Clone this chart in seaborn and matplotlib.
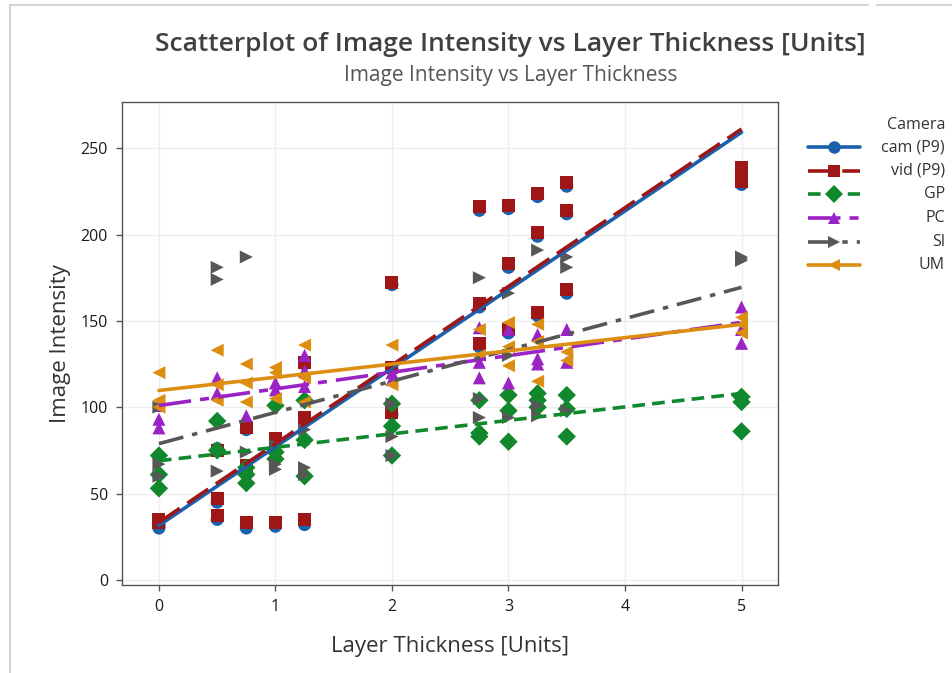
import numpy as np
import pandas as pd
import matplotlib
matplotlib.use("Agg")
import matplotlib.pyplot as plt
import seaborn as sns
from matplotlib.lines import Line2D

# ---------------- data ----------------
cameras = ["Phone cam (P9)", "Phone vid (P9)", "GP", "PC", "SI", "UM"]
legend_labels = ["cam (P9)", "vid (P9)", "GP", "PC", "SI", "UM"]

cam_x = [0, 0, 0, 0.5, 0.5, 0.5, 0.75, 0.75, 0.75, 1, 1, 1.25, 1.25, 1.25, 2, 2, 2,
         2.75, 2.75, 2.75, 3, 3, 3, 3.25, 3.25, 3.25, 3.5, 3.5, 3.5, 5, 5, 5]
cam_y = [30, 31, 32, 35, 45, 76, 30, 65, 87, 31, 81, 32, 93, 125, 96, 122, 171,
         135, 158, 214, 143, 181, 215, 153, 199, 222, 166, 212, 228, 229, 231, 237]

vid_x = [0, 0, 0, 0.5, 0.5, 0.5, 0.75, 0.75, 0.75, 1, 1, 1.25, 1.25, 1.25, 2, 2, 2,
         2.75, 2.75, 2.75, 3, 3, 3, 3.25, 3.25, 3.25, 3.5, 3.5, 3.5, 5, 5, 5]
vid_y = [33, 34, 35, 37, 47, 75, 33, 66, 88, 33, 82, 35, 94, 126, 97, 123, 172,
         137, 160, 216, 145, 183, 217, 155, 201, 224, 168, 214, 230, 231, 233, 239]

gp_x = [0, 0, 0, 0.5, 0.5, 0.75, 0.75, 0.75, 1, 1, 1, 1.25, 1.25, 1.25, 2, 2, 2,
        2.75, 2.75, 2.75, 3, 3, 3, 3.25, 3.25, 3.25, 3.5, 3.5, 3.5, 5, 5, 5]
gp_y = [53, 61, 72, 75, 92, 56, 61, 65, 70, 74, 101, 60, 81, 104, 72, 89, 102,
        83, 85, 104, 80, 98, 107, 100, 104, 108, 83, 99, 107, 86, 103, 106]

pc_x = [0, 0, 0, 0.5, 0.5, 0.75, 1, 1, 1.25, 1.25, 1.25, 2, 2, 2.75, 2.75, 2.75,
        3, 3, 3.25, 3.25, 3.25, 3.5, 3.5, 5, 5, 5]
pc_y = [88, 93, 101, 108, 117, 95, 110, 114, 112, 121, 130, 116, 120, 117, 126, 146,
        114, 145, 125, 128, 142, 126, 145, 137, 145, 158]

si_x = [0, 0, 0, 0.5, 0.5, 0.5, 0.75, 0.75, 1, 1, 1, 1.25, 1.25, 1.25, 2, 2, 2,
        2.75, 2.75, 2.75, 3, 3, 3, 3.25, 3.25, 3.25, 3.5, 3.5, 3.5, 5, 5, 5]
si_y = [60, 67, 100, 63, 174, 181, 74, 187, 64, 67, 78, 61, 65, 87, 72, 83, 102,
        94, 105, 175, 94, 130, 166, 95, 101, 191, 98, 181, 187, 185, 186, 187]

um_x = [0, 0, 0, 0.5, 0.5, 0.5, 0.75, 0.75, 0.75, 1, 1, 1, 1.25, 1.25, 1.25, 2, 2,
        2.75, 2.75, 3, 3, 3, 3.25, 3.25, 3.25, 3.5, 3.5, 5, 5, 5]
um_y = [100, 104, 120, 104, 113, 133, 103, 114, 125, 105, 120, 123, 103, 117, 136, 113, 136,
        130, 145, 124, 135, 149, 115, 138, 148, 127, 132, 143, 148, 152]

x_ticks = [0, 1, 2, 3, 4, 5]
y_ticks = [0, 50, 100, 150, 200, 250]

# ---------------- styles ----------------
colors = ["#1a60ad", "#9e1616", "#12882c", "#9b22c4", "#575757", "#dc8e10"]
markers = ["o", "s", "D", "^", ">", "<"]
linestyles = ["-", (0, (7, 2.5)), (0, (3.5, 2)), (0, (9, 2.5, 2.5, 2.5)),
              (0, (7, 2.5, 1.5, 2.5)), "-"]

xs = [cam_x, vid_x, gp_x, pc_x, si_x, um_x]
ys = [cam_y, vid_y, gp_y, pc_y, si_y, um_y]
df = pd.concat([pd.DataFrame({"Layer Thickness": x, "Image Intensity": y, "Camera": c})
                for x, y, c in zip(xs, ys, cameras)], ignore_index=True)

sns.set_theme(style="white")
plt.rcParams["font.family"] = ["Open Sans", "DejaVu Sans"]

fig = plt.figure(figsize=(9.53, 6.73), dpi=100)
ax = fig.add_axes([0.128, 0.131, 0.688, 0.717])

sns.scatterplot(data=df, x="Layer Thickness", y="Image Intensity", hue="Camera",
                style="Camera", palette=dict(zip(cameras, colors)),
                markers=dict(zip(cameras, markers)), s=88, linewidth=0,
                legend=False, ax=ax, zorder=3)

for c, col, ls in zip(cameras, colors, linestyles):
    sub = df[df["Camera"] == c]
    sns.regplot(data=sub, x="Layer Thickness", y="Image Intensity", scatter=False,
                ci=None, color=col, ax=ax,
                line_kws=dict(linestyle=ls, linewidth=2.6, zorder=4))

ax.set_xlim(-0.317, 5.31)
ax.set_ylim(-2.9, 276.6)
ax.set_xticks(x_ticks)
ax.set_yticks(y_ticks)
ax.grid(True, color="#eeeeee", linewidth=1)
for sp in ax.spines.values():
    sp.set_color("#555555")
    sp.set_linewidth(1)
ax.tick_params(axis="both", which="major", length=4, width=1, color="#555555",
               labelsize=11.5, labelcolor="#1a1a1a", direction="out", pad=6,
               left=True, bottom=True)
ax.set_xlabel("Layer Thickness [Units]", fontsize=16, color="#333333", labelpad=15)
ax.set_ylabel("Image Intensity", fontsize=16, color="#333333", labelpad=7)

fig.text(0.536, 0.934, "Scatterplot of Image Intensity vs Layer Thickness [Units]",
         ha="center", va="center", fontsize=19, fontweight="semibold", color="#404040")
fig.text(0.536, 0.888, "Image Intensity vs Layer Thickness",
         ha="center", va="center", fontsize=15, color="#555555")

# ---------------- legend (manual, right-aligned labels) ----------------
W, H = 953.0, 673.0
fig.text(945 / W, 1 - 125 / H, "Camera", ha="right", va="center", fontsize=11.5, color="#333333")
for i, (lab, col, m, ls) in enumerate(zip(legend_labels, colors, markers, linestyles)):
    yy = 1 - (147 + i * 23.7) / H
    fig.add_artist(Line2D([808 / W, 834 / W, 860 / W], [yy, yy, yy], color=col,
                          linestyle=ls, linewidth=2.6, marker=m, markersize=9,
                          markeredgewidth=0, markevery=[1], transform=fig.transFigure))
    fig.text(945 / W, yy, lab, ha="right", va="center", fontsize=11.5, color="#333333")

# screenshot frame lines
fig.add_artist(Line2D([10 / W, 868 / W], [1 - 5 / H, 1 - 5 / H], color="#d4d4d4",
                      linewidth=1.5, transform=fig.transFigure))
fig.add_artist(Line2D([877 / W, 1.0], [1 - 5 / H, 1 - 5 / H], color="#d4d4d4",
                      linewidth=1.5, transform=fig.transFigure))
fig.add_artist(Line2D([10 / W, 10 / W], [0, 1 - 5 / H], color="#d4d4d4",
                      linewidth=1.5, transform=fig.transFigure))

fig.savefig("out.png", dpi=100, facecolor="white")
